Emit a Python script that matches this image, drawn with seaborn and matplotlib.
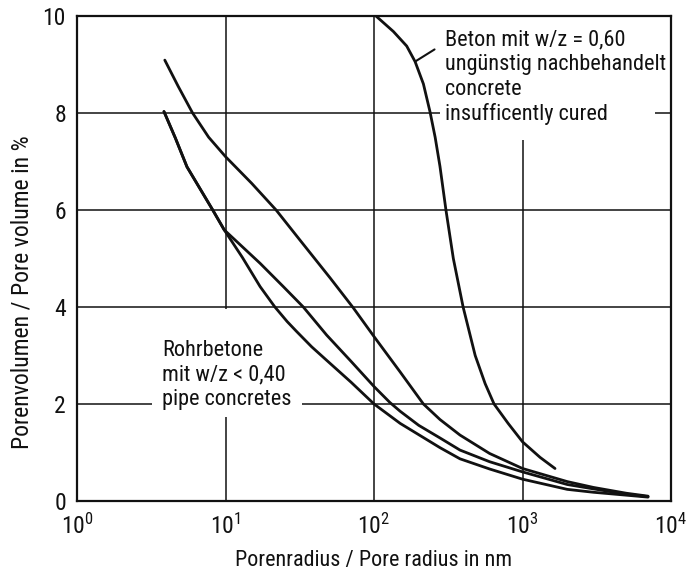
import matplotlib
matplotlib.use("Agg")
import matplotlib.pyplot as plt
from matplotlib import font_manager
from matplotlib.patches import Rectangle
from matplotlib.ticker import LogLocator, NullFormatter
import numpy as np
import pandas as pd
import seaborn as sns

# pore radius (nm) / pore volume (%)
upper_r = [3.9, 4.8, 6.0, 7.7, 10, 15, 21.9, 31.7, 50.6, 72.6, 100, 150, 215, 278, 379, 600, 1000, 2000, 3000, 5000, 7000]
upper_v = [9.09, 8.55, 8.0, 7.5, 7.1, 6.55, 6.0, 5.38, 4.6, 3.98, 3.39, 2.66, 2.0, 1.68, 1.36, 0.98, 0.67, 0.40, 0.28, 0.16, 0.10]

middle_r = [3.85, 4.6, 5.5, 8.2, 9.8, 17.1, 24.5, 33.4, 48, 70, 100, 128, 150, 200, 278, 379, 600, 1000, 2000, 3000, 5000, 7000]
middle_v = [8.03, 7.48, 6.89, 6.0, 5.59, 4.9, 4.42, 4.0, 3.42, 2.88, 2.36, 2.03, 1.85, 1.56, 1.3, 1.05, 0.81, 0.6, 0.34, 0.25, 0.14, 0.09]

lower_r = [3.85, 4.6, 5.5, 8.2, 9.8, 13, 17.1, 21.5, 26, 30, 38, 48, 70, 100, 150, 278, 379, 600, 1000, 2000, 3000, 5000, 7000]
lower_v = [8.03, 7.48, 6.89, 6.0, 5.59, 5.02, 4.42, 4.0, 3.70, 3.5, 3.18, 2.9, 2.45, 2.0, 1.6, 1.1, 0.87, 0.66, 0.45, 0.24, 0.18, 0.12, 0.08]

beton_r = [103, 135, 166, 189, 215, 238, 258, 278, 305, 342, 398, 480, 560, 643, 800, 1000, 1312, 1655]
beton_v = [10.0, 9.68, 9.38, 9.06, 8.6, 8.03, 7.5, 6.9, 6.0, 5.0, 4.0, 3.0, 2.42, 2.0, 1.6, 1.22, 0.9, 0.67]

beton_text = "Beton mit w/z = 0,60\nungünstig nachbehandelt\nconcrete\ninsufficently cured"
rohr_text = "Rohrbetone\nmit w/z < 0,40\npipe concretes"

sns.set_style("white")

# a narrow sans face, if one is installed
family = "DejaVu Sans"
stretch = "normal"
for fam in ["Liberation Sans Narrow", "Roboto Condensed", "Arial Narrow", "Open Sans Condensed"]:
    try:
        font_manager.findfont(font_manager.FontProperties(family=fam), fallback_to_default=False)
        family = fam
        break
    except ValueError:
        pass
if family == "DejaVu Sans":
    for fam in ["DejaVu Sans", "Noto Sans", "Roboto", "Open Sans"]:
        p = font_manager.findfont(font_manager.FontProperties(family=fam, stretch="condensed"))
        if "ondensed" in p or "arrow" in p:
            family, stretch = fam, "condensed"
            break
plt.rcParams["font.family"] = [family, "DejaVu Sans"]
plt.rcParams["font.stretch"] = stretch

frames = []
for name, r, v in [("upper", upper_r, upper_v), ("middle", middle_r, middle_v),
                   ("lower", lower_r, lower_v), ("beton", beton_r, beton_v)]:
    frames.append(pd.DataFrame({"r": r, "v": v, "curve": name}))
df = pd.concat(frames, ignore_index=True)

fig = plt.figure(figsize=(6.92, 5.75), dpi=100)
ax = fig.add_axes([0.1113, 0.1287, 0.8584, 0.8435])
ax.set_xscale("log")
ax.set_axisbelow(True)

sns.lineplot(data=df, x="r", y="v", units="curve", estimator=None, sort=False,
             color="#111111", linewidth=2.0, ax=ax, zorder=3)

ax.set_xlim(1, 1e4)
ax.set_ylim(0, 10)
ax.set_yticks([0, 2, 4, 6, 8, 10])
ax.xaxis.set_major_locator(LogLocator(base=10, numticks=10))
ax.xaxis.set_minor_locator(LogLocator(base=10, subs=np.arange(2, 10), numticks=20))
ax.xaxis.set_minor_formatter(NullFormatter())
ax.tick_params(axis="both", which="major", length=0, labelsize=17, colors="#111111")
ax.tick_params(axis="x", which="major", pad=9)
ax.tick_params(axis="y", which="major", pad=8)
ax.tick_params(axis="x", which="minor", direction="in", length=5, width=1, color="#111111")
ax.grid(True, which="major", color="#111111", linewidth=1.1)
for s in ax.spines.values():
    s.set_visible(True)
    s.set_color("#111111")
    s.set_linewidth(1.6)

ax.set_xlabel("Porenradius / Pore radius in nm", fontsize=16, color="#111111", labelpad=8)
ax.set_ylabel("Porenvolumen / Pore volume in %", fontsize=16, color="#111111")
ax.yaxis.set_label_coords(-0.074, 0.43)

# white areas where the grid is broken around the labels
ax.add_patch(Rectangle((278, 7.44), 7800 - 278, 10 - 7.44, facecolor="white",
                       edgecolor="none", zorder=1))
ax.add_patch(Rectangle((3.2, 1.73), 32.7 - 3.2, 3.95 - 1.73, facecolor="white",
                       edgecolor="none", zorder=1))

beton = ax.annotate(beton_text, xy=(beton_r[3], beton_v[3]), xytext=(300, 9.72),
                    textcoords="data", va="top", ha="left", fontsize=18, linespacing=1.22,
                    color="#111111", zorder=4,
                    arrowprops=dict(arrowstyle="-", color="#111111", lw=1.5,
                                    relpos=(0, 0.86), shrinkA=6, shrinkB=0))
rohr = ax.text(3.74, 3.32, rohr_text, va="top", ha="left", fontsize=18, linespacing=1.22,
               color="#111111", zorder=4)


def fit(artist, line, target_px):
    # scale the font so that a reference line has the width seen in the picture
    r = fig.canvas.get_renderer()
    probe = fig.text(0, 0, line, fontsize=artist.get_fontsize())
    w = probe.get_window_extent(r).width
    probe.remove()
    artist.set_fontsize(artist.get_fontsize() * target_px / w)


fig.canvas.draw()
fit(beton, "ungünstig nachbehandelt", 221)
rohr.set_fontsize(beton.get_fontsize())
fit(ax.xaxis.label, "Porenradius / Pore radius in nm", 278)
fit(ax.yaxis.label, "Porenvolumen / Pore volume in %", 315)

fig.savefig("out.png", dpi=100)
